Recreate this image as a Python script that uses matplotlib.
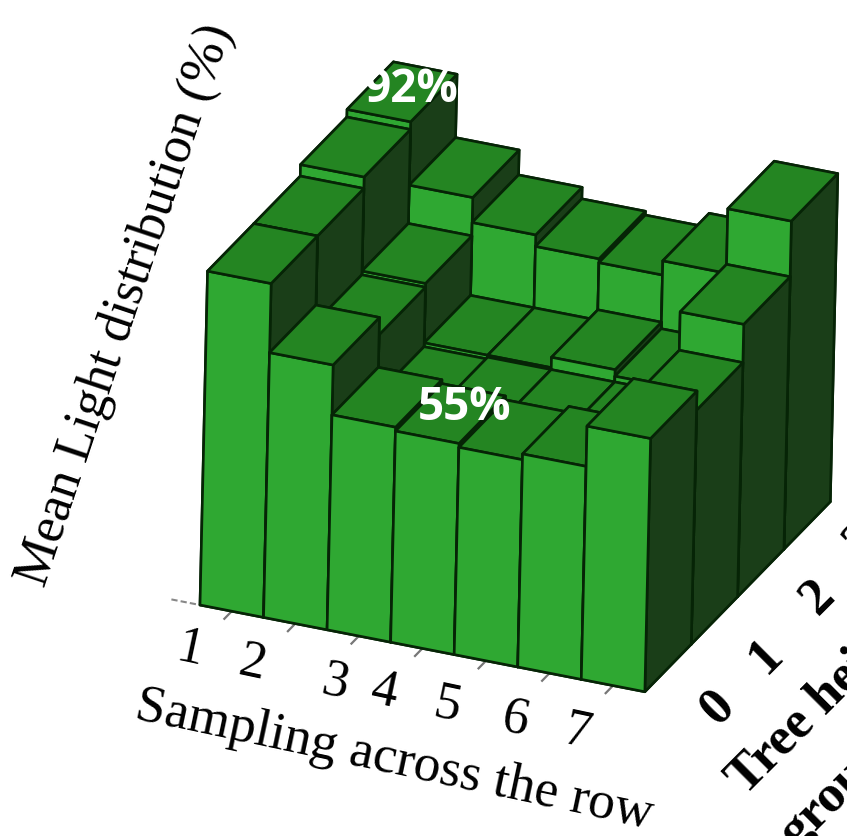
import matplotlib
matplotlib.use('Agg')
import numpy as np
import matplotlib.pyplot as plt
from mpl_toolkits.mplot3d import proj3d

# Mean light (%) per tree height row (front to back), sampling 1..7
row_0 = [87, 69, 56, 55, 54, 55.5, 66]
row_1 = [87, 64.5, 49, 49.5, 49.5, 49.5, 61]
row_2 = [90, 65.5, 50, 50, 52.7, 51, 71]
row_3 = [92, 75.5, 69, 66, 65, 68.7, 85.5]
rows = [row_0, row_1, row_2, row_3]

x_tick_labels = ['1', '2', '3', '4', '5', '6', '7']
y_tick_labels = ['0', '1', '2', '3']

FIG_W, FIG_H = 847, 836

# bottom, top, front, back, left, right
face_colours = ['#1a3e18', '#248522', '#2fa832', '#2fa832', '#1a3e18', '#1a3e18']
edge_colour = '#062406'


def px_text(fig, x, y, s, **kwargs):
    # place text from picture pixel coordinates
    return fig.text(x / FIG_W, 1 - y / FIG_H, s, **kwargs)


def project_px(ax, point):
    x2, y2, _ = proj3d.proj_transform(point[0], point[1], point[2], ax.get_proj())
    px = ax.transData.transform((x2, y2))
    return np.array([px[0], FIG_H - px[1]])


def fit_axes(ax, corner_a, target_a, corner_b, target_b):
    # move and scale the axes so two base corners land where the picture has them
    left, bottom, size = 0.0, 0.0, 1.0
    for _ in range(4):
        ax.set_position([left, bottom, size, size * FIG_W / FIG_H])
        ax.apply_aspect()
        a = project_px(ax, corner_a)
        b = project_px(ax, corner_b)
        scale = np.linalg.norm(np.subtract(target_b, target_a)) / np.linalg.norm(b - a)
        size = size * scale
        ax.set_position([left, bottom, size, size * FIG_W / FIG_H])
        ax.apply_aspect()
        a = project_px(ax, corner_a)
        left += (target_a[0] - a[0]) / FIG_W
        bottom -= (target_a[1] - a[1]) / FIG_H


fig = plt.figure(figsize=(FIG_W / 100, FIG_H / 100), dpi=100)
fig.set_facecolor('white')
ax = fig.add_subplot(111, projection='3d')
ax.set_proj_type('ortho')
ax.computed_zorder = False
ax.view_init(elev=25.4, azim=-68.2, roll=-1.3)
ax.set_xlim(0, 7, view_margin=0)
ax.set_ylim(0, 4, view_margin=0)
ax.set_zlim(0, 100, view_margin=0)
ax.set_box_aspect((7 * 68.9, 4 * 122.2, 100 * 4.26))
ax.set_axis_off()
ax.patch.set_visible(False)

# draw back to front, left to right, so the painter order is right
z_order = 10
for j in range(len(rows) - 1, -1, -1):
    for i, value in enumerate(rows[j]):
        ax.bar3d(i, j, 0, 1, 1, value, color=face_colours, edgecolor=edge_colour,
                 linewidth=1.9, shade=False, zorder=z_order)
        z_order += 1

# small ticks below the front row
for i in range(len(x_tick_labels)):
    ax.plot([i + 0.5, i + 0.5], [0, -0.16], [0, 0], color='#777777', lw=1.6, zorder=5)
ax.plot([-0.45, 0], [0, 0], [0, 0], color='#888888', lw=1.5, ls=(0, (3, 1.5)), zorder=5)

fit_axes(ax, (0, 0, 0), (200, 605), (7, 4, 0), (830, 500))

serif = 'Liberation Serif'
tick_px = [(190, 650), (252, 664), (335, 683), (385, 692), (447, 706), (515, 720), (577, 733)]
for label, (x, y) in zip(x_tick_labels, tick_px):
    px_text(fig, x, y, label, family=serif, fontsize=38, rotation=-12,
            ha='center', va='center', rotation_mode='anchor')

y_tick_px = [(718, 707), (766, 656), (818, 597), (862, 540)]
for label, (x, y) in zip(y_tick_labels, y_tick_px):
    px_text(fig, x, y, label, family=serif, fontsize=38, fontweight='bold', rotation=45,
            ha='center', va='center', rotation_mode='anchor')

px_text(fig, 394, 760, 'Sampling across the row', family=serif, fontsize=38.5, rotation=-12,
        ha='center', va='center', rotation_mode='anchor')
px_text(fig, 126, 305, 'Mean Light distribution (%)', family=serif, fontsize=37.5, rotation=71.5,
        ha='center', va='center', rotation_mode='anchor')
px_text(fig, 745, 796, 'Tree height above', family=serif, fontsize=38, fontweight='bold',
        rotation=45, ha='left', va='baseline', rotation_mode='anchor')
px_text(fig, 797, 849, 'ground', family=serif, fontsize=38, fontweight='bold',
        rotation=45, ha='left', va='baseline', rotation_mode='anchor')

px_text(fig, 411, 89, '92%', family='Open Sans', fontsize=33, fontweight='bold', color='white',
        ha='center', va='center', zorder=20)
px_text(fig, 465, 408, '55%', family='Open Sans', fontsize=33, fontweight='bold', color='white',
        ha='center', va='center', zorder=20)

fig.savefig('out.png', dpi=100)
